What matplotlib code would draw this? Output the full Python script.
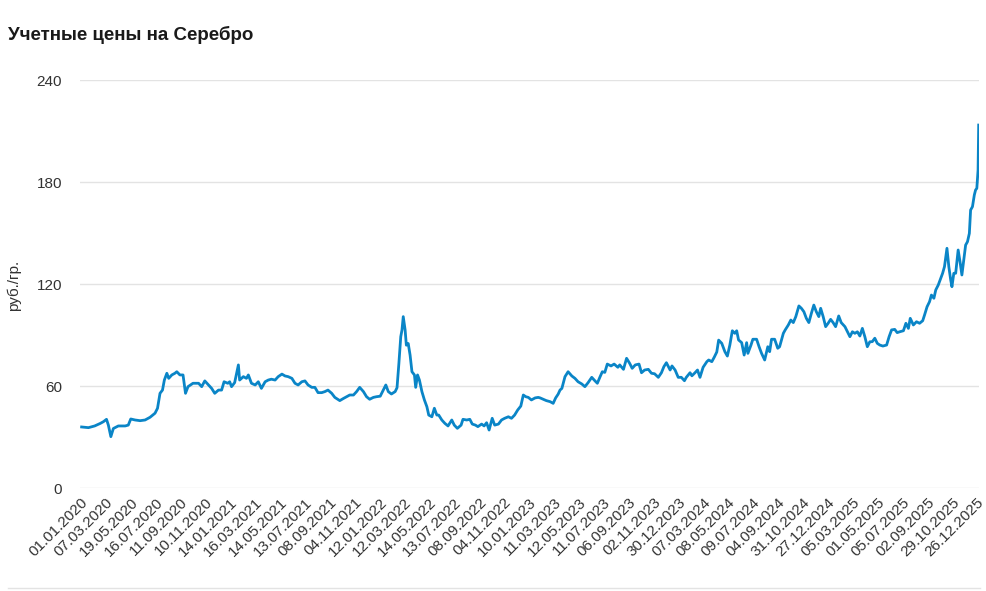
import numpy as np
import matplotlib
matplotlib.use("Agg")
import matplotlib.pyplot as plt

plt.rcParams['font.family'] = ['Liberation Sans', 'DejaVu Sans']

# trading-day number of each reading (ticks fall every 40 days)
day_idx = [1, 12, 22, 31, 36, 41, 44, 48, 52, 60, 71, 76, 80, 87, 95, 103, 111, 119, 123, 127,
           131, 134, 138, 141, 146, 151, 154, 159, 164, 168, 172, 180, 189, 194, 199, 205, 210, 215, 221, 226,
           230, 236, 239, 242, 247, 253, 255, 261, 266, 269, 274, 280, 285, 290, 296, 301, 306, 312, 317, 323,
           328, 333, 339, 344, 349, 355, 360, 365, 371, 376, 381, 387, 392, 397, 403, 408, 416, 422, 427, 432,
           438, 443, 448, 454, 459, 464, 470, 475, 481, 486, 490, 494, 499, 505, 508, 511, 514, 516, 518, 521,
           523, 526, 529, 532, 536, 538, 541, 544, 548, 552, 556, 559, 564, 568, 572, 575, 580, 585, 590, 596,
           600, 605, 611, 614, 620, 625, 629, 634, 638, 644, 648, 652, 656, 661, 665, 671, 676, 681, 687, 692,
           697, 702, 707, 711, 715, 719, 724, 730, 735, 738, 743, 748, 754, 759, 763, 767, 770, 773, 778, 783,
           789, 794, 799, 805, 810, 815, 821, 826, 830, 834, 838, 842, 846, 852, 857, 863, 866, 872, 877, 882,
           886, 891, 897, 901, 906, 912, 917, 922, 928, 933, 937, 941, 947, 950, 955, 960, 965, 970, 973, 979,
           982, 987, 991, 995, 1000, 1006, 1009, 1014, 1018, 1022, 1025, 1030, 1035, 1039, 1043, 1047, 1051, 1054, 1057, 1062,
           1066, 1070, 1072, 1077, 1080, 1086, 1090, 1094, 1099, 1104, 1107, 1110, 1115, 1120, 1123, 1129, 1132, 1137, 1141, 1145,
           1149, 1154, 1158, 1162, 1166, 1170, 1174, 1178, 1182, 1186, 1189, 1193, 1197, 1201, 1205, 1209, 1213, 1218, 1222, 1228,
           1232, 1236, 1240, 1244, 1248, 1252, 1256, 1260, 1264, 1268, 1272, 1276, 1280, 1284, 1289, 1295, 1299, 1303, 1308, 1312,
           1316, 1322, 1326, 1330, 1333, 1338, 1343, 1348, 1353, 1356, 1360, 1364, 1367, 1371, 1374, 1378, 1382, 1385, 1388, 1392,
           1395, 1398, 1400, 1403, 1406, 1410, 1413, 1416, 1419, 1422, 1425, 1428, 1430, 1433, 1436, 1438, 1440, 1442, 1443]

price = [35.9, 35.5, 36.5, 38.0, 39.0, 40.4, 37.0, 30.2, 35.0, 36.5, 36.5, 37.0, 40.6, 40.0, 39.6, 40.0, 41.6, 44.0, 46.9, 55.7,
         57.6, 63.5, 67.5, 64.5, 66.5, 67.5, 68.4, 66.5, 66.5, 55.7, 59.6, 61.6, 61.6, 59.6, 63.0, 60.6, 58.6, 55.7, 57.6, 57.6,
         62.5, 61.6, 62.5, 59.6, 62.0, 72.4, 63.5, 65.5, 64.5, 66.5, 61.6, 60.6, 62.5, 58.6, 62.5, 63.5, 64.0, 63.5, 65.5, 67.0,
         65.9, 65.5, 64.5, 61.6, 60.6, 62.5, 63.0, 60.6, 59.2, 59.2, 56.1, 56.1, 56.7, 57.6, 55.7, 53.3, 51.4, 52.7, 53.7, 54.7,
         54.7, 56.7, 59.2, 56.7, 53.7, 52.2, 53.3, 53.7, 54.0, 57.6, 60.6, 56.7, 55.3, 56.7, 59.0, 73.3, 89.0, 93.0, 100.8, 93.0,
         84.0, 85.0, 78.2, 68.4, 66.5, 59.2, 66.5, 63.5, 56.7, 51.8, 47.8, 42.9, 41.9, 46.9, 42.9, 42.9, 40.0, 38.0, 36.5, 40.0,
         37.0, 35.1, 37.0, 40.4, 40.0, 40.4, 37.6, 37.0, 36.1, 37.6, 36.5, 38.4, 34.1, 41.0, 37.0, 37.6, 40.0, 41.0, 41.9, 41.0,
         42.9, 45.9, 48.2, 54.7, 53.7, 53.3, 51.8, 53.0, 53.3, 53.0, 52.2, 51.4, 50.8, 49.8, 53.0, 55.2, 57.6, 58.6, 65.5, 68.4,
         65.9, 64.5, 62.5, 61.2, 59.6, 61.9, 65.1, 63.1, 61.6, 65.1, 68.4, 68.0, 72.9, 71.8, 72.9, 71.0, 72.4, 69.8, 76.3, 73.3,
         70.4, 72.4, 72.9, 67.8, 69.4, 69.8, 67.5, 67.2, 65.1, 67.8, 71.4, 73.7, 69.4, 71.8, 69.4, 65.1, 65.1, 63.1, 65.1, 67.8,
         66.0, 67.8, 69.4, 65.1, 71.0, 74.3, 75.3, 74.3, 77.0, 80.0, 87.0, 85.1, 80.2, 77.6, 84.1, 92.5, 91.0, 92.5, 87.1, 85.5,
         78.2, 85.5, 79.2, 84.1, 87.5, 87.5, 83.1, 79.2, 75.3, 83.1, 80.2, 87.5, 87.5, 82.2, 83.1, 91.0, 93.0, 95.9, 98.8, 97.3,
         100.8, 107.1, 105.7, 103.7, 99.8, 97.3, 102.7, 107.6, 103.7, 100.8, 105.7, 100.8, 94.9, 96.9, 99.2, 97.3, 94.9, 101.2, 97.3, 94.9,
         91.9, 89.0, 91.9, 91.0, 91.9, 89.4, 93.9, 89.0, 83.1, 86.0, 86.1, 88.1, 85.1, 84.1, 83.5, 84.1, 89.0, 93.0, 93.3, 91.4,
         91.9, 92.5, 96.9, 93.9, 99.8, 95.9, 97.8, 96.9, 98.4, 101.8, 106.6, 109.6, 113.5, 111.6, 116.5, 119.4, 123.3, 126.3, 130.2, 141.0,
         130.2, 122.4, 118.4, 126.3, 126.3, 140.0, 133.1, 125.3, 134.1, 142.9, 144.9, 149.8, 163.5, 165.5, 172.4, 175.3, 176.3, 187.0, 213.5]

tick_labels = ['01.01.2020', '07.03.2020', '19.05.2020', '16.07.2020', '11.09.2020', '10.11.2020',
               '14.01.2021', '16.03.2021', '14.05.2021', '13.07.2021', '08.09.2021', '04.11.2021',
               '12.01.2022', '12.03.2022', '14.05.2022', '13.07.2022', '08.09.2022', '04.11.2022',
               '10.01.2023', '11.03.2023', '12.05.2023', '11.07.2023', '06.09.2023', '02.11.2023',
               '30.12.2023', '07.03.2024', '08.05.2024', '09.07.2024', '04.09.2024', '31.10.2024',
               '27.12.2024', '05.03.2025', '01.05.2025', '05.07.2025', '02.09.2025', '29.10.2025',
               '26.12.2025']
tick_step = 40

fig = plt.figure(figsize=(9.86, 5.91), dpi=100)
ax = fig.add_axes([80 / 986, 1 - 488 / 591, 899 / 986, 408 / 591])

ax.plot(day_idx, price, color='#0a85c7', lw=2, solid_joinstyle='round')

ax.set_xlim(-1.6, 1443.5)
ax.set_ylim(0, 240)
ax.set_yticks([0, 60, 120, 180, 240])
ax.set_xticks(np.arange(len(tick_labels)) * tick_step)
ax.set_xticklabels(tick_labels, rotation=45, ha='right', va='top',
                   rotation_mode='anchor', fontsize=11, color='#333333')
ax.tick_params(axis='y', length=0, pad=13, labelsize=11, labelcolor='#333333')
ax.tick_params(axis='x', length=0, pad=5)
ax.grid(axis='y', color='#e3e3e3', lw=1)
ax.set_axisbelow(True)
for s in ax.spines.values():
    s.set_visible(False)

fig.text(14 / 986, 1 - 285 / 591, 'руб./гр.', fontsize=11, color='#333333',
         rotation=90, ha='center', va='center')

fig.text(8 / 986, 1 - 35 / 591, 'Учетные цены на Серебро', fontsize=13.5,
         fontweight='bold', color='#1a1a1a', va='center', ha='left')
fig.add_artist(plt.Line2D([8 / 986, 980 / 986], [1 - 588 / 591] * 2,
                          color='#e3e3e3', lw=1, transform=fig.transFigure))

fig.savefig('out.png', dpi=100)
